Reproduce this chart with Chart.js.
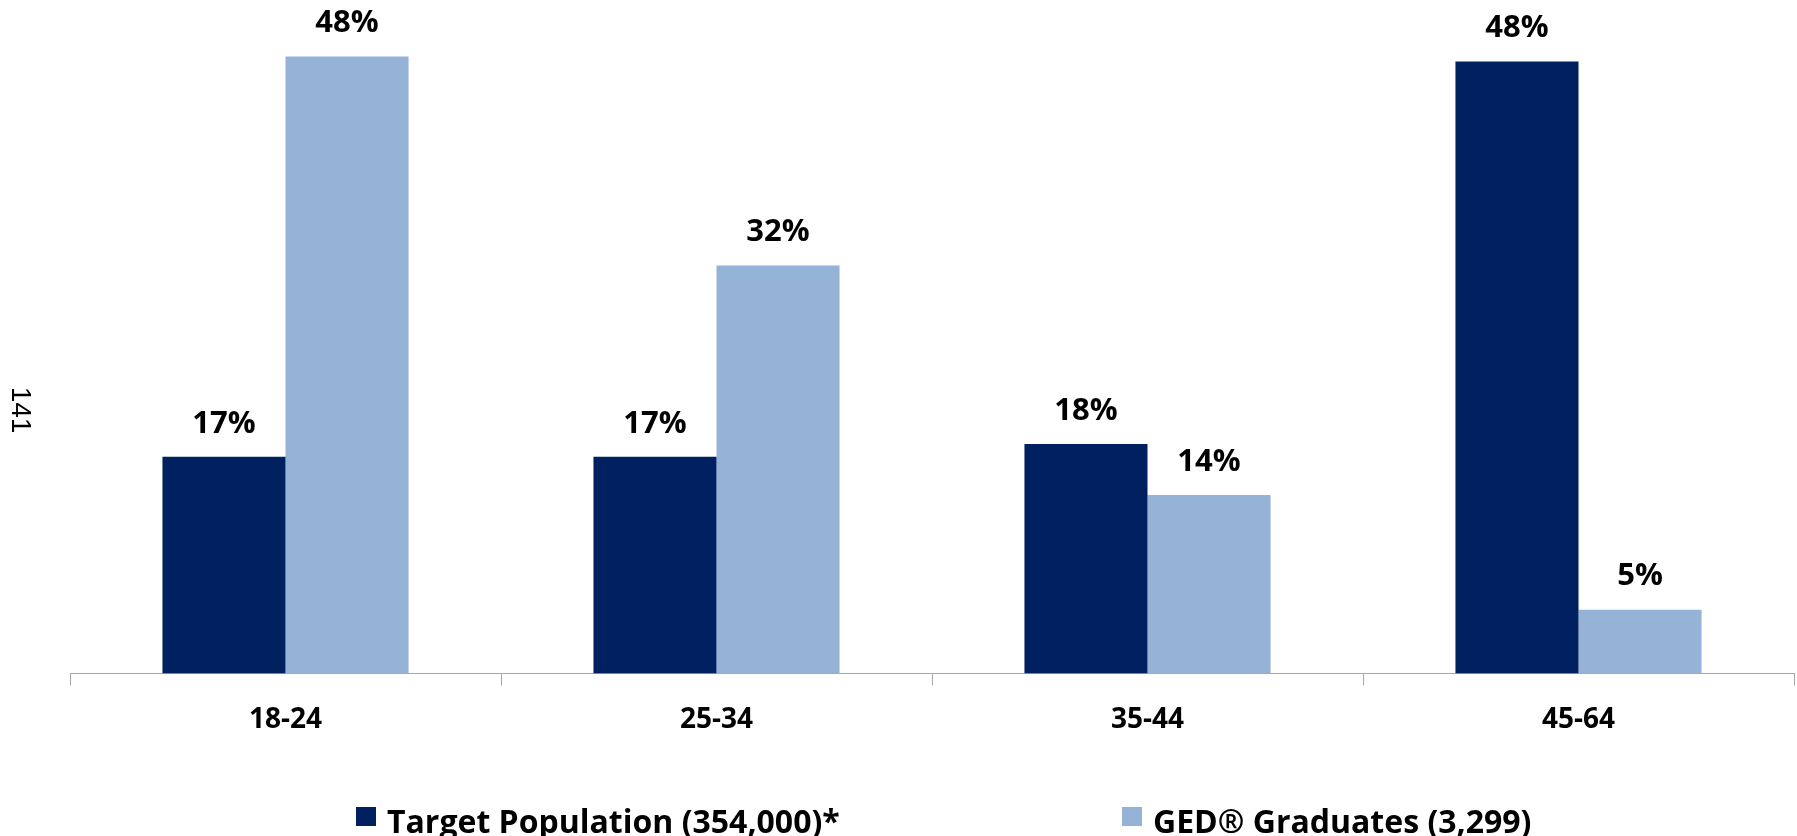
<!DOCTYPE html>
<html lang="en">
<head>
    <meta charset="UTF-8">
    <title>Age Distribution</title>
    <script src="https://cdn.jsdelivr.net/npm/chart.js"></script>
    <style>
        body {
            margin: 0;
            background-color: #ffffff;
        }
        .chart-container {
            position: relative;
            width: 1797px;
            height: 836px;
        }
    </style>
</head>
<body>
    <div class="chart-container">
        <canvas id="chartCanvas"></canvas>
    </div>

    <script>
        const ageGroups = ['18-24', '25-34', '35-44', '45-64'];
        const targetPopulation = [17, 17, 18, 48];
        const gedGraduates = [48.4, 32, 14, 5];
        const seriesNames = ['Target Population (354,000)*', 'GED\u00AE Graduates (3,299)'];
        const seriesColors = ['#002060', '#95B3D7'];
        const sideNote = '141';

        const labelFont = 'bold 31px "Open Sans", sans-serif';

        // percentage labels above each bar
        const valueLabels = {
            id: 'valueLabels',
            afterDatasetsDraw(chart) {
                const ctx = chart.ctx;
                ctx.save();
                ctx.font = labelFont;
                ctx.fillStyle = '#000000';
                ctx.textAlign = 'center';
                ctx.textBaseline = 'middle';
                chart.data.datasets.forEach((ds, i) => {
                    chart.getDatasetMeta(i).data.forEach((bar, j) => {
                        ctx.fillText(Math.round(ds.data[j]) + '%', bar.x, bar.y - 33);
                    });
                });
                ctx.restore();
            }
        };

        // wide spaced legend at the bottom, like the original (text runs off the edge)
        const bottomLegend = {
            id: 'bottomLegend',
            afterDraw(chart) {
                const ctx = chart.ctx;
                const starts = [356, 1122];
                ctx.save();
                ctx.font = 'bold 32px "Open Sans", sans-serif';
                ctx.textBaseline = 'alphabetic';
                ctx.textAlign = 'left';
                chart.data.datasets.forEach((ds, i) => {
                    ctx.fillStyle = ds.backgroundColor;
                    ctx.fillRect(starts[i], 807, 20, 19);
                    ctx.fillStyle = '#000000';
                    ctx.fillText(ds.label, starts[i] + 31, 833);
                });
                ctx.restore();
            }
        };

        const sideText = {
            id: 'sideText',
            afterDraw(chart) {
                const ctx = chart.ctx;
                ctx.save();
                ctx.translate(20, 410);
                ctx.rotate(Math.PI / 2);
                ctx.font = '28px "Liberation Sans", Arial, sans-serif';
                ctx.fillStyle = '#000000';
                ctx.textAlign = 'center';
                ctx.textBaseline = 'middle';
                ctx.fillText(sideNote, 0, 0);
                ctx.restore();
            }
        };

        new Chart(document.getElementById('chartCanvas'), {
            type: 'bar',
            data: {
                labels: ageGroups,
                datasets: [
                    {
                        label: seriesNames[0],
                        data: targetPopulation,
                        backgroundColor: seriesColors[0]
                    },
                    {
                        label: seriesNames[1],
                        data: gedGraduates,
                        backgroundColor: seriesColors[1]
                    }
                ]
            },
            options: {
                responsive: true,
                maintainAspectRatio: false,
                animation: false,
                datasets: {
                    bar: {
                        barPercentage: 1,
                        categoryPercentage: 0.571
                    }
                },
                layout: {
                    padding: { left: 70, right: 3, top: 36, bottom: 81 }
                },
                plugins: {
                    legend: { display: false },
                    tooltip: { enabled: false }
                },
                scales: {
                    x: {
                        grid: {
                            display: true,
                            drawOnChartArea: false,
                            offset: true,
                            tickLength: 12,
                            color: '#a6a6a6'
                        },
                        border: { color: '#a6a6a6' },
                        ticks: {
                            color: '#000000',
                            padding: 18,
                            font: { family: '"Open Sans", sans-serif', size: 28, weight: 'bold' }
                        }
                    },
                    y: {
                        display: false,
                        min: 0,
                        max: 50
                    }
                }
            },
            plugins: [valueLabels, bottomLegend, sideText]
        });
    </script>
</body>
</html>
